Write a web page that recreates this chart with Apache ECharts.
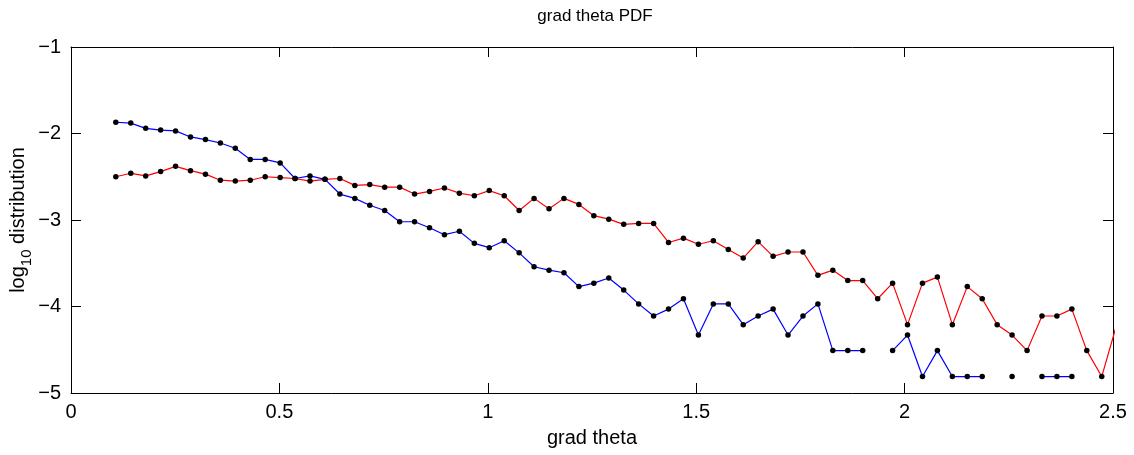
<!DOCTYPE html>
<html>
<head>
<meta charset="utf-8">
<script src="https://cdn.jsdelivr.net/npm/echarts@6/dist/echarts.min.js"></script>
<style>
  html, body { margin: 0; padding: 0; background: #fff; }
  #chart { width: 1134px; height: 455px; }
</style>
</head>
<body>
<div id="chart"></div>
<script>
// Bin centres of the gradient histogram
const gradTheta = [
  0.1075, 0.1434, 0.1792, 0.2150, 0.2509, 0.2867, 0.3226, 0.3584, 0.3942, 0.4301,
  0.4659, 0.5018, 0.5376, 0.5734, 0.6093, 0.6451, 0.6810, 0.7168, 0.7526, 0.7885,
  0.8243, 0.8602, 0.8960, 0.9318, 0.9677, 1.0035, 1.0394, 1.0752, 1.1110, 1.1469,
  1.1827, 1.2186, 1.2544, 1.2902, 1.3261, 1.3619, 1.3978, 1.4336, 1.4694, 1.5053,
  1.5411, 1.5770, 1.6128, 1.6486, 1.6845, 1.7203, 1.7562, 1.7920, 1.8278, 1.8637,
  1.8995, 1.9354, 1.9712, 2.0070, 2.0429, 2.0787, 2.1146, 2.1504, 2.1862, 2.2221,
  2.2579, 2.2938, 2.3296, 2.3654, 2.4013, 2.4371, 2.4730, 2.5088
];

// log10 PDF, blue curve (empty bins are null)
const bluePdf = [
  -1.87, -1.88, -1.94, -1.96, -1.97, -2.04, -2.07, -2.11, -2.17, -2.30,
  -2.30, -2.34, -2.52, -2.49, -2.53, -2.70, -2.75, -2.83, -2.89, -3.02,
  -3.02, -3.09, -3.17, -3.13, -3.27, -3.32, -3.24, -3.38, -3.54, -3.58,
  -3.61, -3.77, -3.73, -3.67, -3.81, -3.97, -4.11, -4.03, -3.91, -4.33,
  -3.97, -3.97, -4.21, -4.11, -4.03, -4.33, -4.11, -3.97, -4.51, -4.51,
  -4.51, null, -4.51, -4.33, -4.81, -4.51, -4.81, -4.81, -4.81, null,
  -4.81, null, -4.81, -4.81, -4.81, null, null, null
];

// log10 PDF, red curve
const redPdf = [
  -2.50, -2.46, -2.49, -2.44, -2.38, -2.43, -2.47, -2.54, -2.55, -2.54,
  -2.50, -2.51, -2.52, -2.55, -2.53, -2.52, -2.60, -2.59, -2.62, -2.62,
  -2.70, -2.67, -2.63, -2.69, -2.72, -2.66, -2.72, -2.89, -2.75, -2.87,
  -2.75, -2.82, -2.95, -2.99, -3.05, -3.04, -3.04, -3.26, -3.21, -3.28,
  -3.24, -3.34, -3.44, -3.25, -3.42, -3.37, -3.37, -3.64, -3.58, -3.70,
  -3.70, -3.91, -3.73, -4.21, -3.73, -3.66, -4.21, -3.77, -3.91, -4.21,
  -4.33, -4.51, -4.11, -4.11, -4.03, -4.51, -4.81, -4.21
];

const xTicks = { min: 0, max: 2.5, interval: 0.5 };
const yTicks = { min: -5, max: -1, interval: 1 };

const FONT = '"Liberation Sans", Arial, Helvetica, sans-serif';

function pairs(xs, ys) {
  return xs.map((x, i) => [x, ys[i] == null ? null : ys[i]]);
}

const chart = echarts.init(document.getElementById('chart'), null, { renderer: 'canvas' });

const axisLine = { show: true, onZero: false, lineStyle: { color: '#000', width: 1 } };
const axisTick = { show: true, inside: true, length: 10, lineStyle: { color: '#000', width: 1 } };

chart.setOption({
  animation: false,
  backgroundColor: '#fff',
  title: {
    text: 'grad theta PDF',
    left: 590,
    top: 3,
    textAlign: 'center',
    textStyle: { fontFamily: FONT, fontSize: 17, fontWeight: 'normal', color: '#000' }
  },
  grid: { left: 71, right: 21, top: 47, bottom: 62, containLabel: false, outerBoundsMode: 'none' },
  xAxis: [
    {
      type: 'value',
      min: xTicks.min, max: xTicks.max, interval: xTicks.interval,
      position: 'bottom',
      axisLine, axisTick,
      splitLine: { show: false },
      axisLabel: { color: '#000', fontFamily: FONT, fontSize: 20, margin: 9 },
      name: 'grad theta',
      nameLocation: 'middle',
      nameGap: 35,
      nameTextStyle: { color: '#000', fontFamily: FONT, fontSize: 20 }
    },
    {
      type: 'value',
      min: xTicks.min, max: xTicks.max, interval: xTicks.interval,
      position: 'top',
      axisLine, axisTick,
      splitLine: { show: false },
      axisLabel: { show: false }
    }
  ],
  yAxis: [
    {
      type: 'value',
      min: yTicks.min, max: yTicks.max, interval: yTicks.interval,
      position: 'left',
      axisLine, axisTick,
      splitLine: { show: false },
      axisLabel: {
        color: '#000', fontFamily: FONT, fontSize: 20, margin: 10,
        formatter: v => String(v).replace('-', '\u2212')
      },
      name: '{n|log}{s|10}{n| distribution}',
      nameLocation: 'middle',
      nameRotate: 90,
      nameGap: 43,
      nameMoveOverlap: false,
      nameTextStyle: {
        color: '#000',
        rich: {
          n: { fontFamily: FONT, fontSize: 20, color: '#000', lineHeight: 24, verticalAlign: 'bottom' },
          s: { fontFamily: FONT, fontSize: 15, color: '#000', lineHeight: 24, verticalAlign: 'bottom', padding: [0, 0, -6, 0] }
        }
      }
    },
    {
      type: 'value',
      min: yTicks.min, max: yTicks.max, interval: yTicks.interval,
      position: 'right',
      axisLine, axisTick,
      splitLine: { show: false },
      axisLabel: { show: false }
    }
  ],
  series: [
    {
      type: 'line',
      name: 'red',
      data: pairs(gradTheta, redPdf),
      xAxisIndex: 0, yAxisIndex: 0,
      clip: true,
      connectNulls: false,
      showAllSymbol: true,
      symbol: 'circle',
      symbolSize: 5.5,
      itemStyle: { color: '#000' },
      lineStyle: { color: '#ff0000', width: 1.2 },
      z: 2
    },
    {
      type: 'line',
      name: 'blue',
      data: pairs(gradTheta, bluePdf),
      xAxisIndex: 0, yAxisIndex: 0,
      clip: true,
      connectNulls: false,
      showAllSymbol: true,
      symbol: 'circle',
      symbolSize: 5.5,
      itemStyle: { color: '#000' },
      lineStyle: { color: '#0000ff', width: 1.2 },
      z: 3
    }
  ]
});
</script>
</body>
</html>
